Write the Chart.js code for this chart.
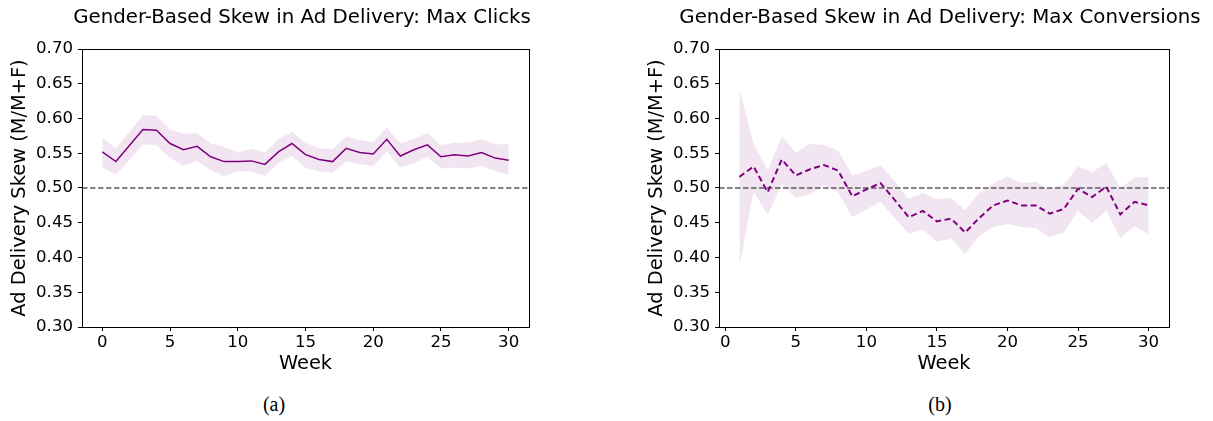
<!DOCTYPE html>
<html>
<head>
<meta charset="utf-8">
<script src="https://cdn.jsdelivr.net/npm/chart.js@4"></script>
<style>
  body { margin: 0; background: #fff; width: 1213px; height: 421px; position: relative; overflow: hidden; }
  .box { position: absolute; top: 0; }
  .ttl { position: absolute; top: 5px; width: 600px; text-align: center; white-space: nowrap; font-family: 'DejaVu Sans', sans-serif; font-size: 19.8px; line-height: 24px; color: #000; }
  .cap { position: absolute; top: 392px; width: 100px; text-align: center; font-family: 'Liberation Serif', serif; font-size: 20px; line-height: 24px; color: #000; }
</style>
</head>
<body>
<div class="box" style="left:0px"><canvas id="clicks" width="600" height="380"></canvas></div>
<div class="box" style="left:637px"><canvas id="conv" width="576" height="380"></canvas></div>
<div class="ttl" style="left:2px">Gender-Based Skew in Ad Delivery: Max Clicks</div>
<div class="ttl" style="left:640px">Gender-Based Skew in Ad Delivery: Max Conversions</div>
<div class="cap" style="left:224px">(a)</div>
<div class="cap" style="left:890px">(b)</div>
<script>
const clicksWeeks = [0,1,2,3,4,5,6,7,8,9,10,11,12,13,14,15,16,17,18,19,20,21,22,23,24,25,26,27,28,29,30];
const clicksMean  = [0.552,0.538,0.561,0.584,0.583,0.564,0.555,0.560,0.545,0.538,0.538,0.539,0.534,0.552,0.564,0.548,0.541,0.538,0.557,0.551,0.549,0.570,0.546,0.555,0.562,0.545,0.548,0.546,0.551,0.543,0.540];
const clicksUpper = [0.573,0.557,0.581,0.605,0.604,0.584,0.578,0.579,0.564,0.559,0.551,0.557,0.551,0.570,0.581,0.565,0.557,0.556,0.574,0.569,0.566,0.587,0.564,0.571,0.579,0.562,0.565,0.565,0.570,0.563,0.563];
const clicksLower = [0.530,0.519,0.540,0.563,0.561,0.543,0.532,0.539,0.526,0.517,0.524,0.524,0.517,0.536,0.546,0.529,0.524,0.522,0.538,0.534,0.531,0.553,0.529,0.536,0.545,0.528,0.529,0.528,0.532,0.524,0.519];

const convWeeks = [1,2,3,4,5,6,7,8,9,10,11,12,13,14,15,16,17,18,19,20,21,22,23,24,25,26,27,28,29,30];
const convMean  = [0.516,0.531,0.494,0.541,0.518,0.527,0.533,0.525,0.488,0.498,0.507,0.483,0.458,0.467,0.452,0.456,0.436,0.457,0.475,0.482,0.475,0.475,0.463,0.470,0.499,0.487,0.502,0.462,0.480,0.475];
const convUpper = [0.642,0.564,0.526,0.574,0.551,0.564,0.562,0.554,0.518,0.525,0.533,0.510,0.484,0.493,0.484,0.486,0.468,0.493,0.507,0.517,0.507,0.509,0.498,0.505,0.531,0.523,0.536,0.500,0.515,0.516];
const convLower = [0.386,0.495,0.461,0.505,0.486,0.491,0.504,0.493,0.458,0.469,0.480,0.457,0.434,0.440,0.423,0.427,0.405,0.431,0.444,0.448,0.444,0.442,0.429,0.436,0.467,0.450,0.467,0.428,0.445,0.433];

const weekTicks = [0,5,10,15,20,25,30];
const skewTicks = [0.30,0.35,0.40,0.45,0.50,0.55,0.60,0.65,0.70];
const parity = 0.5;

Chart.defaults.font.family = "'DejaVu Sans', sans-serif";
Chart.defaults.color = '#000';

// matplotlib style box round the plot
const frame = {
    id: 'frame',
    afterDatasetsDraw(chart) {
        const a = chart.chartArea;
        const c = chart.ctx;
        c.save();
        c.strokeStyle = '#000';
        c.lineWidth = 1;
        c.strokeRect(Math.round(a.left) + 0.5, Math.round(a.top) + 0.5,
                     Math.round(a.right - a.left), Math.round(a.bottom - a.top));
        c.restore();
    }
};

function pts(xs, ys) {
    return xs.map((x, i) => ({ x: x, y: ys[i] }));
}

function makeChart(id, weeks, mean, upper, lower, xMin, xMax, padRight, dash) {
    return new Chart(document.getElementById(id), {
        type: 'line',
        data: {
            datasets: [
                {
                    data: pts(weeks, mean),
                    borderColor: 'purple',
                    borderWidth: dash ? 2 : 1.5,
                    borderDash: dash || [],
                    pointRadius: 0,
                    tension: 0,
                    fill: false
                },
                {
                    data: [{ x: xMin, y: parity }, { x: xMax, y: parity }],
                    borderColor: '#5c5c5c',
                    borderWidth: 1.4,
                    borderDash: [5.5, 2.5],
                    pointRadius: 0,
                    fill: false
                },
                {
                    data: pts(weeks, upper),
                    borderWidth: 0,
                    borderColor: 'rgba(0,0,0,0)',
                    backgroundColor: 'rgba(128,0,128,0.1)',
                    pointRadius: 0,
                    tension: 0,
                    fill: '+1'
                },
                {
                    data: pts(weeks, lower),
                    borderWidth: 0,
                    borderColor: 'rgba(0,0,0,0)',
                    pointRadius: 0,
                    tension: 0,
                    fill: false
                }
            ]
        },
        options: {
            responsive: false,
            animation: false,
            layout: { padding: { left: 0, right: padRight, top: 49, bottom: 0 } },
            plugins: {
                legend: { display: false },
                tooltip: { enabled: false },
                title: { display: false }
            },
            scales: {
                x: {
                    type: 'linear',
                    min: xMin,
                    max: xMax,
                    afterBuildTicks: s => { s.ticks = weekTicks.map(v => ({ value: v })); },
                    afterFit: s => { s.height = 53; },
                    border: { display: false },
                    grid: { drawOnChartArea: false, drawTicks: true, tickLength: 4, color: '#000' },
                    ticks: { font: { size: 16.6 }, padding: 2, maxRotation: 0, callback: v => v },
                    title: { display: true, text: 'Week', font: { size: 19.4 }, padding: { top: 0, bottom: 4 } }
                },
                y: {
                    min: 0.3,
                    max: 0.7,
                    afterBuildTicks: s => { s.ticks = skewTicks.map(v => ({ value: v })); },
                    afterFit: s => { s.width = 82; },
                    border: { display: false },
                    grid: { drawOnChartArea: false, drawTicks: true, tickLength: 4, color: '#000' },
                    ticks: { font: { size: 16.6 }, padding: 5, callback: v => v.toFixed(2) },
                    title: { display: true, text: 'Ad Delivery Skew (M/M+F)', font: { size: 19.4 }, padding: { top: 8, bottom: 0 } }
                }
            }
        },
        plugins: [frame]
    });
}

makeChart('clicks', clicksWeeks, clicksMean, clicksUpper, clicksLower, -1.5, 31.5, 71, null);
makeChart('conv', convWeeks, convMean, convUpper, convLower, -0.45, 31.45, 44, [6, 3.5]);
</script>
</body>
</html>
